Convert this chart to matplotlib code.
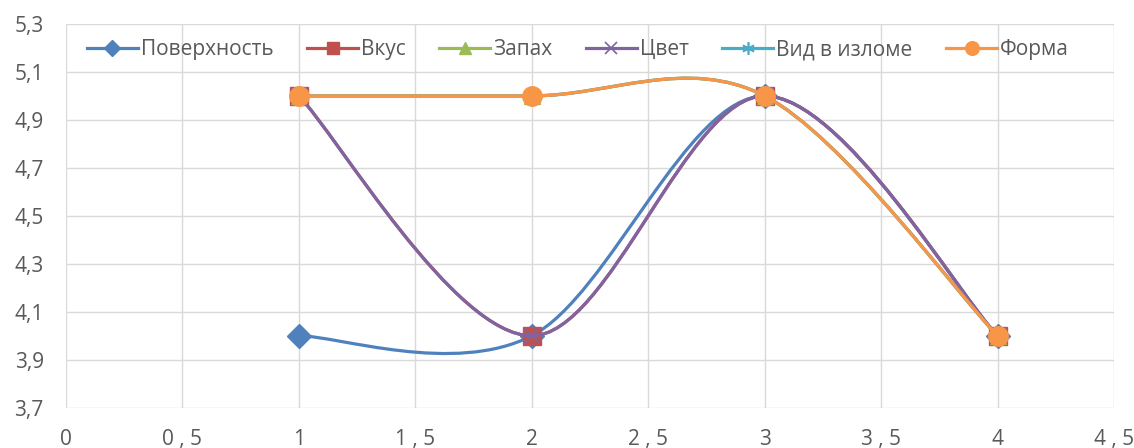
import matplotlib
matplotlib.use("Agg")
from matplotlib import pyplot as plt
from matplotlib.path import Path
from matplotlib.patches import PathPatch
from matplotlib.lines import Line2D

# data
x_vals = [1, 2, 3, 4]
poverkhnost = [4, 4, 5, 4]
vkus = [5, 4, 5, 4]
zapakh = [5, 5, 5, 4]
tsvet = [5, 4, 5, 4]
vid_v_izlome = [5, 5, 5, 4]
forma = [5, 5, 5, 4]

series_names = ["Поверхность", "Вкус", "Запах", "Цвет", "Вид в изломе", "Форма"]
series_values = [poverkhnost, vkus, zapakh, tsvet, vid_v_izlome, forma]
colors = ["#4F81BD", "#C0504D", "#9BBB59", "#8064A2", "#4BACC6", "#F79646"]
markers = ["D", "s", "^", "x", (6, 2, 0), "o"]
marker_sizes = [12, 13, 12, 12, 13, 14]

x_ticks = [0, 0.5, 1, 1.5, 2, 2.5, 3, 3.5, 4, 4.5]
x_tick_labels = ["0", "0 , 5", "1", "1 , 5", "2", "2 , 5", "3", "3 , 5", "4", "4 , 5"]
y_ticks = [3.7, 3.9, 4.1, 4.3, 4.5, 4.7, 4.9, 5.1, 5.3]
y_tick_labels = ["3,7", "3,9", "4,1", "4,3", "4,5", "4,7", "4,9", "5,1", "5,3"]

plt.rcParams['font.family'] = ['Open Sans', 'DejaVu Sans']
TEXT = "#595959"
GRID = "#D9D9D9"


def smooth_path(xs, ys):
    """Excel-like smoothed line: cubic Bezier through every point."""
    pts = list(zip(xs, ys))
    n = len(pts)
    verts = [pts[0]]
    codes = [Path.MOVETO]
    for i in range(n - 1):
        p0 = pts[i - 1] if i > 0 else pts[i]
        p1 = pts[i]
        p2 = pts[i + 1]
        p3 = pts[i + 2] if i + 2 < n else pts[i + 1]
        c1 = (p1[0] + (p2[0] - p0[0]) / 6, p1[1] + (p2[1] - p0[1]) / 6)
        c2 = (p2[0] - (p3[0] - p1[0]) / 6, p2[1] - (p3[1] - p1[1]) / 6)
        verts += [c1, c2, p2]
        codes += [Path.CURVE4] * 3
    return Path(verts, codes)


fig = plt.figure(figsize=(11.34, 4.48), dpi=100)
ax = fig.add_axes([66 / 1134, 1 - 407.7 / 448, (1114 - 66) / 1134, (407.7 - 24) / 448])

handles = []
for i, (name, vals) in enumerate(zip(series_names, series_values)):
    patch = PathPatch(smooth_path(x_vals, vals), facecolor="none", edgecolor=colors[i],
                      lw=2.3, capstyle="round", zorder=3 + i * 0.1)
    ax.add_patch(patch)
    mew = 1.2 if markers[i] in ("x",) or isinstance(markers[i], tuple) else 1
    ax.plot(x_vals, vals, linestyle="none", marker=markers[i], ms=marker_sizes[i],
            color=colors[i], mec=colors[i], mew=mew, zorder=3.05 + i * 0.1)
    handles.append(Line2D([], [], color=colors[i], lw=2.3, marker=markers[i],
                          ms=marker_sizes[i] * 0.7, mec=colors[i], mew=mew))

ax.set_xlim(0, 4.5)
ax.set_ylim(3.7, 5.3)
ax.set_xticks(x_ticks)
ax.set_xticklabels(x_tick_labels)
ax.set_yticks(y_ticks)
ax.set_yticklabels(y_tick_labels)
ax.tick_params(length=0, labelsize=15, colors=TEXT)
ax.tick_params(axis="y", pad=16)
ax.tick_params(axis="x", pad=15)
ax.grid(True, color=GRID, lw=1)
ax.set_axisbelow(True)
for s in ax.spines.values():
    s.set_visible(False)

ax.legend(handles, series_names, ncol=6, loc="upper left", bbox_to_anchor=(0.012, 0.982),
          frameon=False, fontsize=15, labelcolor=TEXT, handlelength=2.45,
          handletextpad=0.15, columnspacing=1.6, borderaxespad=0)

fig.savefig("out.png", dpi=100)
